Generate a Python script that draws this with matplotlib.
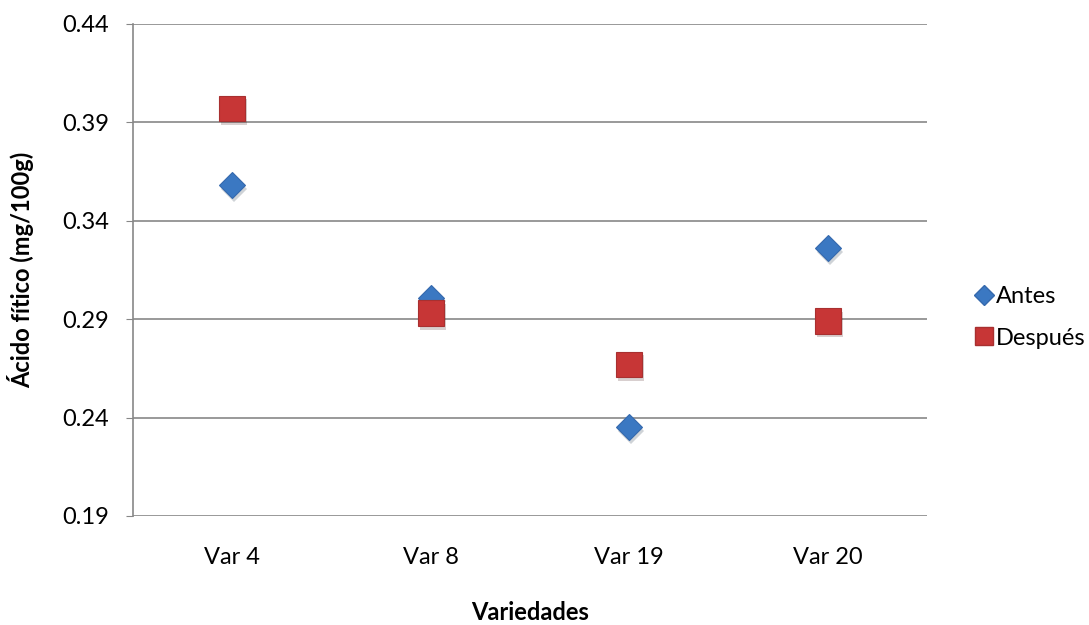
import matplotlib
matplotlib.use("Agg")
import matplotlib.pyplot as plt
import matplotlib.patheffects as pe
from matplotlib.lines import Line2D

categories = ["Var 4", "Var 8", "Var 19", "Var 20"]
antes = [0.358, 0.301, 0.235, 0.326]
despues = [0.397, 0.293, 0.267, 0.289]
yticks = [0.19, 0.24, 0.29, 0.34, 0.39, 0.44]

plt.rcParams['font.family'] = ['Lato', 'DejaVu Sans']

fig = plt.figure(figsize=(10.89, 6.25), dpi=100)
ax = fig.add_axes([0.1221, 0.1744, 0.8512 - 0.1221, 0.9616 - 0.1744])

blue = '#3B78C2'
red = '#C73636'
shadow = [pe.SimplePatchShadow(offset=(1.5, -2.5), alpha=0.2), pe.Normal()]

x = list(range(len(categories)))
ax.plot(x, antes, linestyle='none', marker='D', markersize=13.2, color=blue,
        markeredgecolor='#3569AD', markeredgewidth=0.8, path_effects=shadow, zorder=3)
ax.plot(x, despues, linestyle='none', marker='s', markersize=18.5, color=red,
        markeredgecolor='#A83030', markeredgewidth=0.8, path_effects=shadow, zorder=3)

ax.set_xlim(-0.5, len(categories) - 0.5)
ax.set_ylim(0.19, 0.44)
ax.set_yticks(yticks)
ax.set_yticklabels([f"{v:.2f}" for v in yticks])
ax.set_xticks(x)
ax.set_xticklabels(categories)

fs = 17
ax.grid(axis='y', color='#878787', linewidth=1.2)
ax.set_axisbelow(True)
for s in ['top', 'right', 'bottom']:
    ax.spines[s].set_visible(False)
ax.spines['left'].set_color('#878787')
ax.spines['left'].set_linewidth(1.2)
ax.tick_params(axis='y', length=5, color='#878787', labelsize=fs, pad=12)
ax.tick_params(axis='x', length=0, labelsize=fs, pad=22)

ax.set_xlabel("Variedades", fontsize=fs, fontweight='bold', labelpad=24)
ax.set_ylabel("Ácido fítico (mg/100g)", fontsize=fs, fontweight='bold', labelpad=20)

handles = [
    Line2D([], [], linestyle='none', marker='D', markersize=10, color=blue, markeredgecolor='#3569AD'),
    Line2D([], [], linestyle='none', marker='s', markersize=13, color=red, markeredgecolor='#A83030'),
]
fig.legend(handles, ["Antes", "Después"], loc='center left', bbox_to_anchor=(0.882, 0.492),
           frameon=False, fontsize=fs, handletextpad=0.0, labelspacing=0.85, handlelength=1.0,
           borderpad=0)

fig.savefig("out.png", dpi=100)
